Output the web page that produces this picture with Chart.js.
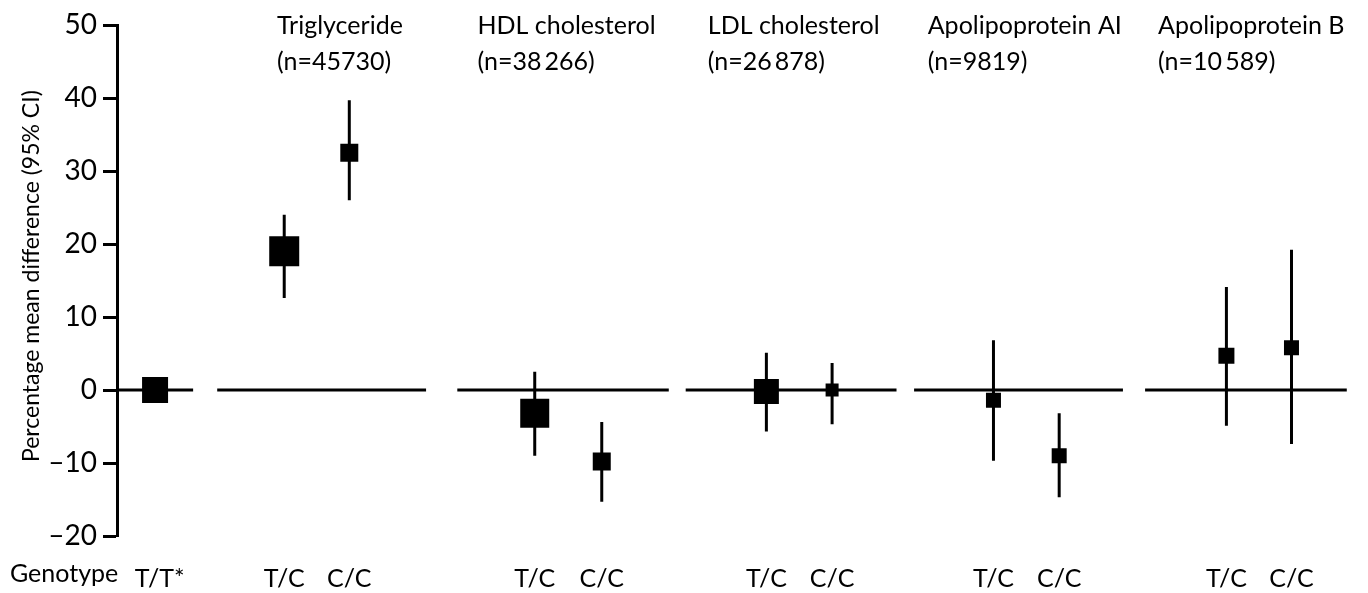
<!DOCTYPE html>
<html>
<head>
<meta charset="utf-8">
<script src="https://cdn.jsdelivr.net/npm/chart.js@4"></script>
<style>
  html, body { margin: 0; padding: 0; background: #fff; }
  #wrap { width: 1368px; height: 593px; position: relative; }
</style>
</head>
<body>
<div id="wrap"><canvas id="grafica"></canvas></div>
<script>
// ===============================
// DATOS
// ===============================
const lipidos = ["Triglyceride", "HDL cholesterol", "LDL cholesterol", "Apolipoprotein AI", "Apolipoprotein B"];
const nTotal = ["45730", "38\u2009266", "26\u2009878", "9819", "10\u2009589"];

// T/T* es la referencia
const refMedia = 0;

// T/C
const tcMedia = [19.0, -3.2, -0.2, -1.4, 4.7];
const tcBajo  = [12.6, -9.0, -5.7, -9.7, -4.9];
const tcAlto  = [24.0, 2.5, 5.1, 6.8, 14.1];

// C/C
const ccMedia = [32.5, -9.8, 0.0, -9.0, 5.8];
const ccBajo  = [26.0, -15.3, -4.7, -14.7, -7.4];
const ccAlto  = [39.7, -4.4, 3.7, -3.2, 19.2];

const yTicks = [-20, -10, 0, 10, 20, 30, 40, 50];
const tituloY = "Percentage mean difference (95% CI)";

// ===============================
// DISPOSICIÓN (unidades del eje x)
// ===============================
const xRef = 0.585;
const xTC = [2.57, 6.42, 9.98, 13.47, 17.05];
const xCC = [3.57, 7.45, 10.99, 14.48, 18.05];
const xCabecera = [2.46, 5.54, 9.08, 12.46, 16.0];
const tramosCero = [[0, 1.17], [1.54, 4.75], [5.23, 8.48], [8.74, 11.98], [12.25, 15.46], [15.8, 19.05]];
// lado del cuadrado en px
const ladoRef = 26;
const ladoTC = [30, 29, 25, 15, 16];
const ladoCC = [18, 18, 13, 15, 15];

const FUENTE = "Lato, 'Liberation Sans', sans-serif";

// ===============================
// SERIES
// ===============================
const lineaCero = [];
tramosCero.forEach(t => {
    lineaCero.push({ x: t[0], y: 0 }, { x: t[1], y: 0 }, { x: t[1], y: null });
});

const barras = [];
lipidos.forEach((l, i) => {
    barras.push({ x: xTC[i], y: tcBajo[i] }, { x: xTC[i], y: tcAlto[i] }, { x: xTC[i], y: null });
    barras.push({ x: xCC[i], y: ccBajo[i] }, { x: xCC[i], y: ccAlto[i] }, { x: xCC[i], y: null });
});

const puntos = [{ x: xRef, y: refMedia }];
const radios = [ladoRef / Math.SQRT2];
lipidos.forEach((l, i) => {
    puntos.push({ x: xTC[i], y: tcMedia[i] });
    radios.push(ladoTC[i] / Math.SQRT2);
    puntos.push({ x: xCC[i], y: ccMedia[i] });
    radios.push(ladoCC[i] / Math.SQRT2);
});

const xEtiquetas = [{ v: xRef + 0.07, t: "T/T*" }];
lipidos.forEach((l, i) => {
    xEtiquetas.push({ v: xTC[i], t: "T/C" }, { v: xCC[i], t: "C/C" });
});

// ===============================
// TEXTOS EXTRA
// ===============================
const textosExtra = {
    id: "textosExtra",
    afterDraw(chart) {
        const ctx = chart.ctx;
        const xs = chart.scales.x;
        const ys = chart.scales.y;
        ctx.save();
        ctx.fillStyle = "#000";
        ctx.font = "25px " + FUENTE;
        ctx.textAlign = "left";
        ctx.textBaseline = "alphabetic";
        lipidos.forEach((l, i) => {
            const px = xs.getPixelForValue(xCabecera[i]);
            ctx.fillText(l, px, 34);
            ctx.fillText("(n=" + nTotal[i] + ")", px, 70);
        });
        ctx.fillText("Genotype", 10, 582);

        // título del eje y
        ctx.translate(32, ys.getPixelForValue(15.6));
        ctx.rotate(-Math.PI / 2);
        ctx.font = "23px " + FUENTE;
        ctx.textAlign = "center";
        ctx.textBaseline = "middle";
        ctx.fillText(tituloY, 0, 0);
        ctx.restore();
    }
};

// ===============================
// GRÁFICA
// ===============================
new Chart(document.getElementById("grafica"), {
    type: "scatter",
    data: {
        datasets: [
            {
                type: "scatter",
                data: puntos,
                pointStyle: "rect",
                pointRadius: radios,
                pointBackgroundColor: "#000",
                pointBorderWidth: 0,
                order: 0
            },
            {
                type: "line",
                data: barras,
                borderColor: "#000",
                borderWidth: 3,
                pointRadius: 0,
                spanGaps: false,
                order: 1
            },
            {
                type: "line",
                data: lineaCero,
                borderColor: "#000",
                borderWidth: 3,
                pointRadius: 0,
                spanGaps: false,
                order: 2
            }
        ]
    },
    options: {
        responsive: true,
        maintainAspectRatio: false,
        animation: false,
        layout: { padding: { top: 25, right: 8, left: 0, bottom: 0 } },
        plugins: { legend: { display: false }, tooltip: { enabled: false } },
        scales: {
            x: {
                type: "linear",
                min: 0,
                max: 18.9,
                border: { display: false },
                grid: { display: false },
                afterBuildTicks: s => { s.ticks = xEtiquetas.map(e => ({ value: e.v })); },
                afterFit: s => { s.height = 57; },
                ticks: {
                    autoSkip: false,
                    maxRotation: 0,
                    padding: 20,
                    color: "#000",
                    font: { family: FUENTE, size: 25 },
                    callback: (v, i) => xEtiquetas[i] ? xEtiquetas[i].t : ""
                }
            },
            y: {
                min: -20,
                max: 50,
                afterBuildTicks: s => { s.ticks = yTicks.map(v => ({ value: v })); },
                afterFit: s => { s.width = 117; },
                border: { display: true, color: "#000", width: 3 },
                grid: {
                    drawOnChartArea: false,
                    drawTicks: true,
                    tickLength: 14,
                    tickWidth: 3,
                    tickColor: "#000"
                },
                ticks: {
                    padding: 6,
                    color: "#000",
                    font: { family: FUENTE, size: 28 },
                    callback: v => v < 0 ? "\u2013" + Math.abs(v) : String(v)
                }
            }
        }
    },
    plugins: [textosExtra]
});
</script>
</body>
</html>
